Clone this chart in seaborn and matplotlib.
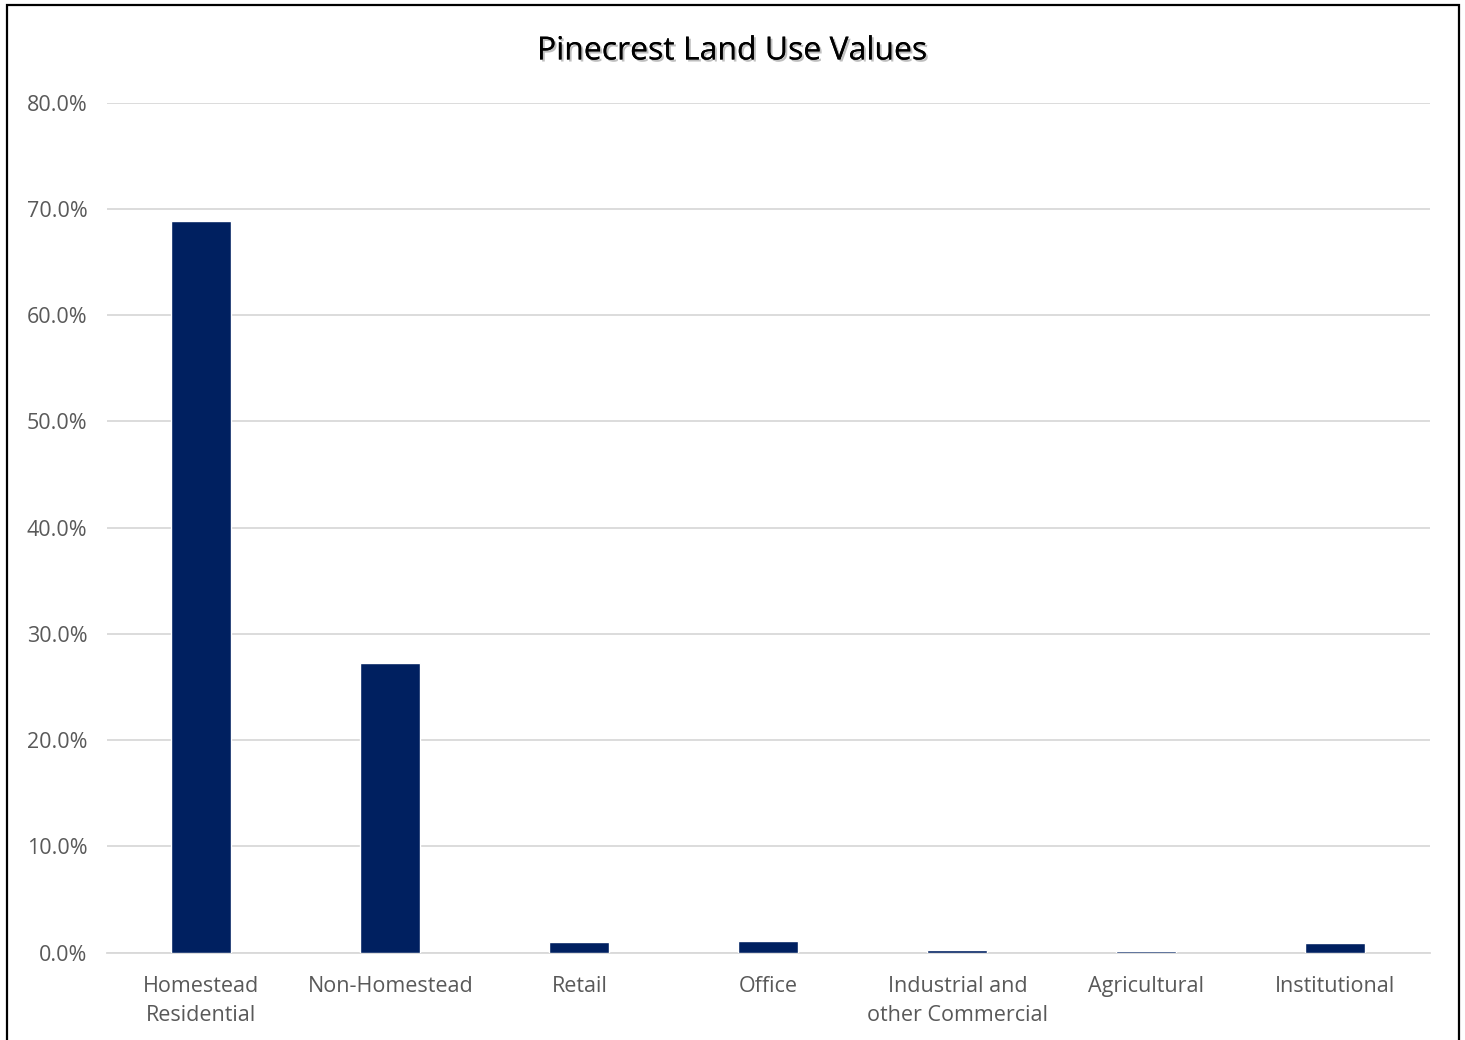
import matplotlib
matplotlib.use("Agg")
import matplotlib.pyplot as plt
import matplotlib.patheffects as pe
from matplotlib.patches import Rectangle
from matplotlib.ticker import PercentFormatter
import pandas as pd
import seaborn as sns

categories = ["Homestead\nResidential", "Non-Homestead", "Retail", "Office",
              "Industrial and\nother Commercial", "Agricultural", "Institutional"]
shares = [0.689, 0.273, 0.0099, 0.0105, 0.0028, 0.0018, 0.0092]
y_ticks = [0.0, 0.1, 0.2, 0.3, 0.4, 0.5, 0.6, 0.7, 0.8]

df = pd.DataFrame({"category": categories, "share": shares})

sns.set_theme(style="white")
plt.rcParams["font.family"] = ["Open Sans", "DejaVu Sans"]

fig = plt.figure(figsize=(14.65, 10.4), dpi=100)
ax = fig.add_axes([0.073, 0.0841, 0.903, 0.817])

sns.barplot(data=df, x="category", y="share", color="#002060",
            saturation=1, width=0.317, ax=ax, zorder=3)

ax.set_ylim(0, 0.8)
ax.set_yticks(y_ticks)
ax.yaxis.set_major_formatter(PercentFormatter(1.0, decimals=1))
ax.set_xlim(-0.5, len(categories) - 0.5)
ax.grid(axis="y", color="#d9d9d9", linewidth=1.3, zorder=0)
ax.set_axisbelow(True)
for s in ["top", "right", "left"]:
    ax.spines[s].set_visible(False)
ax.spines["bottom"].set_color("#d9d9d9")
ax.spines["bottom"].set_linewidth(1.3)
ax.spines["bottom"].set_zorder(0.6)
ax.set_xlabel("")
ax.set_ylabel("")
ax.tick_params(axis="both", length=0, colors="#595959", labelsize=15.5)
ax.tick_params(axis="x", pad=17)
ax.tick_params(axis="y", pad=14)
for lbl in ax.get_xticklabels():
    lbl.set_linespacing(1.5)

title = fig.text(0.5, 0.951, "Pinecrest Land Use Values", ha="center", va="center",
                 fontsize=23, color="black")
title.set_path_effects([pe.withSimplePatchShadow(offset=(1.5, -1.5), alpha=0.25),
                        pe.Normal()])

# Outer chart border
fig.patches.append(Rectangle((6.5 / 1465, -0.01), (1458.5 - 6.5) / 1465, 1.01 - 4.5 / 1040,
                             transform=fig.transFigure, fill=False,
                             edgecolor="black", linewidth=1.6))

fig.savefig("out.png", dpi=100)
